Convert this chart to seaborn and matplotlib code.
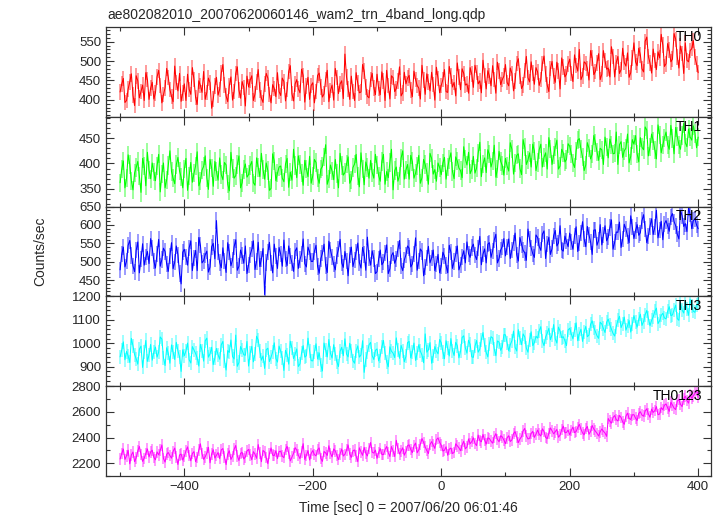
import numpy as np
import matplotlib
matplotlib.use("Agg")
import matplotlib.pyplot as plt
import seaborn as sns
from matplotlib.ticker import MultipleLocator

# time bins (sec): on-grid every 5 s, plus the half-way bins in between
time_sec = np.arange(-500, 401, 5)
time_mid = np.arange(-497.5, 400, 5)

th0 = [
    420, 455, 398, 446, 412, 462, 405, 438, 470, 401,
    445, 418, 476, 392, 431, 458, 409, 487, 423, 396,
    441, 466, 414, 452, 388, 437, 473, 419, 444, 402,
    458, 427, 491, 410, 436, 399, 468, 425, 447, 384,
    433, 462, 415, 478, 404, 441, 456, 392, 429, 470,
    411, 447, 426, 488, 397, 452, 418, 463, 436, 401,
    444, 421, 469, 407, 453, 395, 438, 481, 416, 449,
    518, 428, 461, 398, 443, 420, 474, 409, 452, 431,
    466, 413, 448, 476, 402, 457, 429, 485, 418, 441,
    463, 408, 452, 430, 489, 414, 446, 471, 399, 455,
    437, 478, 419, 462, 445, 495, 426, 468, 441, 483,
    432, 470, 449, 502, 428, 461, 488, 417, 474, 452,
    491, 436, 468, 448, 506, 429, 475, 457, 498, 440,
    472, 452, 513, 438, 481, 461, 497, 428, 485, 466,
    505, 447, 489, 530, 462, 494, 451, 508, 473, 519,
    466, 501, 482, 537, 459, 512, 478, 496, 521, 470,
    547, 488, 516, 472, 562, 495, 531, 478, 508, 541,
    493, 528, 505, 556, 482, 519, 547, 498, 532, 510,
    470,
]
th0_mid = [
    441, 393, 428, 467, 385, 449, 421, 398, 452, 430,
    402, 459, 437, 413, 481, 426, 395, 444, 468, 417,
    398, 427, 483, 406, 449, 419, 401, 456, 378, 435,
    412, 469, 438, 395, 459, 422, 485, 404, 432, 461,
    451, 398, 446, 425, 393, 468, 414, 439, 408, 421,
    456, 397, 473, 416, 441, 428, 479, 394, 458, 437,
    392, 463, 433, 415, 476, 424, 399, 458, 441, 403,
    459, 401, 422, 470, 418, 491, 433, 405, 468, 413,
    429, 472, 398, 437, 462, 421, 448, 410, 471, 456,
    425, 474, 437, 402, 451, 467, 423, 440, 484, 418,
    452, 421, 486, 433, 410, 459, 480, 438, 417, 466,
    489, 441, 418, 463, 475, 436, 452, 497, 439, 461,
    445, 482, 423, 494, 461, 438, 512, 446, 469, 483,
    437, 494, 466, 421, 499, 445, 474, 508, 459, 492,
    468, 516, 474, 452, 498, 481, 527, 465, 495, 452,
    527, 479, 459, 512, 496, 468, 533, 487, 458, 508,
    498, 533, 480, 551, 512, 469, 502, 524, 569, 486,
    545, 498, 571, 511, 539, 468, 502, 527, 553, 492,
]

th1 = [
    362, 405, 371, 398, 348, 392, 375, 410, 356, 387,
    401, 366, 418, 379, 352, 396, 384, 360, 412, 373,
    389, 347, 402, 381, 423, 365, 394, 372, 408, 355,
    384, 411, 368, 397, 346, 390, 376, 415, 362, 399,
    378, 404, 357, 392, 420, 369, 386, 351, 405, 381,
    395, 364, 410, 383, 428, 372, 398, 357, 389, 414,
    376, 402, 361, 394, 437, 370, 385, 408, 352, 396,
    382, 413, 368, 399, 375, 421, 358, 392, 406, 371,
    397, 365, 418, 384, 402, 348, 393, 376, 425, 387,
    369, 404, 381, 416, 372, 398, 359, 410, 388, 401,
    378, 412, 393, 421, 370, 405, 386, 433, 397, 380,
    414, 391, 442, 399, 382, 418, 405, 373, 424, 396,
    410, 385, 428, 401, 419, 378, 432, 407, 393, 425,
    402, 438, 412, 389, 429, 416, 446, 395, 421, 408,
    434, 401, 425, 449, 413, 397, 430, 418, 441, 406,
    427, 452, 411, 436, 420, 398, 443, 425, 458, 414,
    438, 419, 451, 427, 466, 432, 445, 409, 456, 437,
    462, 428, 449, 471, 437, 455, 441, 468, 446, 459,
    452,
]
th1_mid = [
    389, 352, 417, 366, 381, 404, 343, 395, 422, 370,
    383, 395, 344, 401, 368, 425, 371, 398, 385, 352,
    410, 376, 363, 395, 356, 387, 415, 349, 391, 404,
    367, 378, 402, 359, 422, 371, 398, 352, 388, 373,
    396, 362, 411, 374, 388, 401, 347, 419, 366, 393,
    371, 399, 353, 367, 396, 415, 381, 406, 374, 361,
    408, 372, 389, 413, 359, 397, 368, 380, 420, 377,
    399, 361, 392, 418, 354, 389, 403, 371, 382, 418,
    376, 404, 359, 372, 428, 386, 365, 411, 369, 398,
    416, 371, 395, 361, 408, 383, 420, 379, 365, 392,
    401, 369, 408, 384, 413, 391, 372, 409, 422, 388,
    381, 420, 374, 411, 427, 393, 436, 389, 404, 377,
    395, 441, 379, 416, 390, 447, 398, 421, 438, 386,
    427, 393, 421, 451, 398, 432, 389, 428, 403, 439,
    419, 392, 446, 428, 386, 441, 409, 455, 423, 430,
    398, 433, 448, 419, 462, 437, 412, 430, 401, 447,
    455, 403, 432, 472, 415, 458, 427, 476, 421, 450,
    437, 475, 419, 453, 428, 479, 433, 452, 474, 431,
]

th2 = [
    478, 540, 502, 558, 489, 531, 470, 549, 512, 495,
    537, 483, 561, 506, 528, 474, 552, 499, 519, 440,
    534, 491, 557, 510, 476, 545, 503, 529, 486, 550,
    612, 498, 538, 471, 526, 505, 560, 488, 517, 543,
    492, 534, 479, 553, 508, 411, 526, 497, 548, 482,
    521, 559, 490, 515, 474, 538, 506, 562, 486, 527,
    501, 545, 469, 523, 490, 556, 512, 478, 534, 497,
    528, 462, 540, 505, 551, 483, 520, 567, 491, 509,
    473, 532, 499, 546, 481, 525, 508, 558, 476, 519,
    537, 494, 565, 502, 528, 485, 542, 511, 476, 520,
    488, 515, 470, 526, 501, 543, 492, 530, 554, 512,
    548, 506, 569, 521, 497, 552, 530, 575, 509, 541,
    516, 562, 533, 578, 502, 547, 525, 589, 538, 512,
    566, 531, 584, 548, 520, 571, 543, 598, 529, 556,
    578, 534, 595, 552, 609, 541, 573, 520, 587, 558,
    546, 598, 567, 614, 553, 580, 539, 602, 571, 625,
    563, 601, 579, 628, 552, 596, 574, 640, 587, 560,
    612, 583, 631, 598, 562, 625, 604, 646, 590, 617,
    590,
]
th2_mid = [
    521, 486, 545, 517, 473, 554, 508, 491, 528, 563,
    502, 522, 488, 537, 494, 516, 481, 543, 468, 526,
    512, 538, 476, 531, 566, 497, 519, 472, 541, 508,
    527, 484, 503, 552, 489, 541, 477, 532, 496, 468,
    519, 557, 501, 487, 536, 498, 553, 470, 515, 539,
    488, 507, 543, 497, 529, 482, 521, 495, 540, 501,
    528, 487, 509, 548, 471, 532, 493, 517, 561, 485,
    503, 519, 487, 526, 498, 539, 477, 511, 530, 468,
    507, 492, 523, 468, 517, 496, 534, 489, 505, 543,
    486, 521, 477, 535, 462, 511, 497, 532, 494, 470,
    526, 490, 545, 482, 521, 478, 514, 497, 522, 539,
    518, 537, 492, 535, 548, 512, 559, 497, 532, 563,
    541, 509, 552, 519, 566, 531, 504, 561, 522, 573,
    542, 575, 509, 567, 536, 585, 551, 533, 570, 541,
    553, 571, 528, 579, 562, 596, 554, 586, 545, 601,
    572, 557, 593, 534, 581, 608, 562, 589, 552, 594,
    585, 572, 612, 589, 571, 617, 594, 565, 610, 603,
    597, 622, 609, 575, 640, 596, 582, 629, 612, 600,
]

th3 = [
    942, 1006, 965, 918, 989, 934, 975, 897, 1012, 951,
    928, 984, 962, 1018, 905, 957, 993, 931, 968, 880,
    947, 1001, 916, 972, 938, 995, 924, 1022, 955, 909,
    978, 932, 1008, 886, 961, 944, 1035, 918, 970, 949,
    903, 987, 955, 1014, 928, 893, 979, 941, 1002, 920,
    966, 884, 951, 1009, 935, 976, 912, 990, 947, 968,
    925, 998, 959, 882, 971, 1016, 937, 954, 901, 983,
    1019, 942, 968, 915, 989, 950, 876, 962, 1004, 931,
    976, 947, 1012, 921, 985, 958, 1023, 936, 969, 944,
    1008, 963, 927, 994, 950, 1040, 972, 915, 986, 955,
    1002, 934, 979, 1020, 948, 990, 966, 1032, 958, 995,
    940, 1012, 975, 1046, 961, 998, 1023, 947, 1005, 984,
    1036, 968, 1011, 983, 1058, 994, 1027, 962, 1049, 1003,
    1022, 1071, 990, 1043, 1015, 1080, 1001, 1052, 1028, 990,
    1064, 1019, 1087, 1041, 1008, 1072, 1035, 1096, 1050, 1021,
    1082, 1046, 1103, 1060, 1031, 1098, 1067, 1112, 1074, 1048,
    1118, 1069, 1124, 1093, 1140, 1075, 1113, 1150, 1096, 1128,
    1104, 1156, 1121, 1163, 1098, 1142, 1177, 1119, 1158, 1132,
    1170,
]
th3_mid = [
    971, 930, 947, 1021, 952, 911, 988, 962, 923, 995,
    963, 941, 1027, 938, 981, 915, 962, 1004, 942, 972,
    968, 930, 986, 957, 903, 969, 1011, 941, 983, 937,
    951, 994, 925, 969, 1014, 933, 902, 986, 951, 1008,
    958, 921, 1030, 967, 946, 973, 922, 963, 935, 988,
    939, 970, 911, 980, 953, 901, 959, 941, 1022, 926,
    961, 933, 908, 1001, 942, 957, 994, 920, 966, 947,
    954, 1000, 926, 968, 941, 1011, 931, 993, 947, 970,
    925, 985, 958, 900, 966, 939, 972, 991, 921, 1003,
    938, 1001, 958, 966, 917, 962, 1003, 945, 967, 1016,
    963, 1011, 946, 969, 1004, 938, 1025, 981, 1013, 942,
    987, 962, 1016, 993, 942, 1028, 976, 1010, 970, 1037,
    1002, 994, 1052, 967, 1021, 1040, 979, 1014, 990, 1030,
    1053, 1008, 1027, 1064, 1036, 1019, 1069, 1024, 1011, 1057,
    1040, 1056, 1011, 1060, 1049, 1028, 1081, 1067, 1032, 1090,
    1063, 1090, 1078, 1042, 1071, 1115, 1084, 1056, 1097, 1083,
    1091, 1102, 1076, 1122, 1106, 1098, 1136, 1084, 1119, 1108,
    1137, 1118, 1143, 1105, 1172, 1129, 1148, 1188, 1137, 1163,
]

th0123 = [
    2232, 2310, 2258, 2195, 2287, 2241, 2330, 2214, 2276, 2249,
    2301, 2226, 2265, 2342, 2208, 2283, 2239, 2318, 2190, 2271,
    2254, 2327, 2219, 2290, 2246, 2351, 2230, 2279, 2203, 2305,
    2262, 2236, 2314, 2189, 2297, 2253, 2338, 2221, 2284, 2248,
    2307, 2227, 2270, 2345, 2212, 2288, 2196, 2319, 2259, 2236,
    2293, 2243, 2331, 2218, 2276, 2302, 2235, 2352, 2261, 2225,
    2298, 2257, 2319, 2214, 2280, 2336, 2249, 2296, 2228, 2311,
    2269, 2342, 2245, 2303, 2212, 2288, 2323, 2256, 2361, 2279,
    2238, 2314, 2267, 2330, 2252, 2295, 2378, 2271, 2320, 2289,
    2343, 2282, 2357, 2304, 2392, 2326, 2275, 2368, 2315, 2397,
    2340, 2301, 2262, 2318, 2284, 2336, 2297, 2371, 2325, 2352,
    2398, 2337, 2376, 2424, 2349, 2392, 2356, 2430, 2367, 2405,
    2352, 2414, 2381, 2446, 2360, 2407, 2471, 2389, 2432, 2401,
    2458, 2412, 2447, 2391, 2475, 2429, 2463, 2418, 2489, 2440,
    2421, 2482, 2447, 2503, 2436, 2469, 2425, 2494, 2450, 2412,
    2467, 2435, 2548, 2512, 2571, 2529, 2556, 2503, 2590, 2541,
    2578, 2532, 2601, 2566, 2624, 2558, 2596, 2641, 2583, 2617,
    2662, 2604, 2653, 2618, 2697, 2641, 2722, 2668, 2706, 2745,
    2712,
]
th0123_mid = [
    2276, 2229, 2301, 2264, 2212, 2296, 2267, 2238, 2311, 2288,
    2245, 2288, 2301, 2236, 2270, 2259, 2292, 2247, 2264, 2224,
    2297, 2260, 2276, 2212, 2303, 2274, 2250, 2324, 2272, 2240,
    2283, 2304, 2248, 2271, 2229, 2309, 2256, 2277, 2233, 2296,
    2262, 2290, 2238, 2280, 2299, 2243, 2275, 2262, 2297, 2291,
    2255, 2307, 2279, 2248, 2321, 2262, 2289, 2229, 2299, 2276,
    2267, 2305, 2236, 2291, 2260, 2277, 2311, 2259, 2273, 2256,
    2302, 2270, 2297, 2254, 2320, 2261, 2278, 2314, 2285, 2302,
    2283, 2268, 2306, 2281, 2330, 2252, 2314, 2296, 2262, 2337,
    2306, 2335, 2281, 2347, 2362, 2298, 2345, 2341, 2383, 2362,
    2295, 2328, 2309, 2275, 2351, 2320, 2342, 2312, 2389, 2368,
    2354, 2419, 2367, 2380, 2397, 2371, 2404, 2385, 2414, 2380,
    2398, 2369, 2431, 2405, 2389, 2452, 2413, 2394, 2448, 2426,
    2426, 2468, 2401, 2433, 2452, 2445, 2402, 2461, 2437, 2458,
    2456, 2438, 2478, 2465, 2421, 2486, 2447, 2466, 2433, 2445,
    2449, 2409, 2527, 2556, 2539, 2572, 2521, 2566, 2548, 2577,
    2551, 2589, 2575, 2606, 2584, 2622, 2609, 2578, 2633, 2652,
    2631, 2675, 2629, 2684, 2659, 2702, 2688, 2735, 2724, 2769,
]

band_names = ["TH0", "TH1", "TH2", "TH3", "TH0123"]
band_rates = [th0, th1, th2, th3, th0123]
band_rates_mid = [th0_mid, th1_mid, th2_mid, th3_mid, th0123_mid]
band_errors = [20, 18, 22, 30, 45]   # typical 1-sigma per bin

# styling
band_colors = ["#ff0000", "#00ff00", "#0000ff", "#00ffff", "#ff00ff"]
y_limits = [(356, 588), (315, 492), (406, 650), (817, 1200), (2100, 2800)]
y_major = [50, 50, 50, 100, 200]
y_minor = [10, 10, 10, 20, 100]

sns.set_style("ticks")
plt.rcParams["font.family"] = ["Liberation Sans", "DejaVu Sans"]
plt.rcParams["font.size"] = 9.5

fig, axes = plt.subplots(5, 1, figsize=(7.23, 5.16), dpi=100, sharex=True)
fig.subplots_adjust(left=0.1466, right=0.9834, top=0.9477, bottom=0.0775, hspace=0)

t_all = np.concatenate([time_sec, time_mid])
order = np.argsort(t_all)
t_all = t_all[order]

for i, ax in enumerate(axes):
    rate = np.concatenate([band_rates[i], band_rates_mid[i]])[order]
    col = band_colors[i]
    ax.errorbar(t_all, rate, yerr=band_errors[i], fmt="none",
                ecolor=col, alpha=0.5, elinewidth=1.1)
    sns.lineplot(x=t_all, y=rate, ax=ax, color=col, linewidth=0.75)
    ax.set_ylim(*y_limits[i])
    ax.set_xlim(-522, 420)
    ax.yaxis.set_major_locator(MultipleLocator(y_major[i]))
    ax.yaxis.set_minor_locator(MultipleLocator(y_minor[i]))
    ax.xaxis.set_major_locator(MultipleLocator(200))
    ax.xaxis.set_minor_locator(MultipleLocator(100))
    ax.tick_params(which="both", direction="in", top=True, right=True,
                   labelsize=9.5, color="#333333", width=0.8)
    ax.tick_params(which="major", length=6)
    ax.tick_params(which="minor", length=3)
    ax.set_ylabel("")
    ax.set_xlabel("")
    for sp in ax.spines.values():
        sp.set_color("#333333")
        sp.set_linewidth(0.9)
    ax.text(0.985, 0.89, band_names[i], transform=ax.transAxes,
            ha="right", va="center", fontsize=10, color="black")

axes[-1].set_xticks([-400, -200, 0, 200, 400])
axes[-1].set_xticklabels(["\u2212400", "\u2212200", "0", "200", "400"])

fig.text(0.149, 0.970, "ae802082010_20070620060146_wam2_trn_4band_long.qdp",
         ha="left", va="center", fontsize=10)
fig.text(40 / 723, 1 - 251 / 516, "Counts/sec", rotation=90,
         ha="center", va="center", fontsize=10)
fig.text(408 / 723, 1 - 508 / 516, "Time [sec] 0 = 2007/06/20 06:01:46",
         ha="center", va="center", fontsize=10)

fig.savefig("out.png", dpi=100)
